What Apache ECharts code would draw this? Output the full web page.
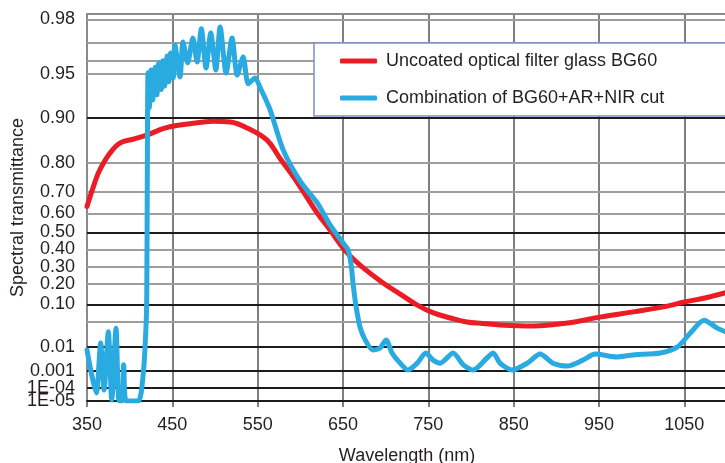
<!DOCTYPE html>
<html>
<head>
<meta charset="utf-8">
<script src="https://cdn.jsdelivr.net/npm/echarts@6/dist/echarts.min.js"></script>
<style>
  html, body { margin: 0; padding: 0; background: #fff; }
  #chart { width: 725px; height: 463px; }
</style>
</head>
<body>
<div id="chart"></div>
<script>
// Uncoated BG60 glass
const redWavelength = [350, 359, 365, 377, 389, 404, 420, 441, 459, 482, 498, 518, 538, 561, 576, 588, 600, 620, 635, 652, 670, 697, 717, 737, 756, 776, 795, 814, 834, 873, 913, 951, 990, 1030, 1050, 1074, 1100];
const redTransmittance = [0.63, 0.73, 0.775, 0.821, 0.843, 0.851, 0.86, 0.876, 0.883, 0.889, 0.892, 0.89, 0.876, 0.849, 0.81, 0.767, 0.716, 0.60, 0.51, 0.395, 0.308, 0.205, 0.142, 0.097, 0.071, 0.058, 0.049, 0.0446, 0.0405, 0.038, 0.046, 0.060, 0.074, 0.093, 0.108, 0.124, 0.15];

// BG60 with AR coating and NIR-cut filter
const blueWavelength = [350, 356, 361, 366, 370, 375, 379, 384, 387.5, 391, 393, 396, 410, 416, 419, 420, 421.5, 423, 425, 427, 430, 432, 434, 437, 439, 441, 444, 446, 448, 451, 453, 459, 462.5, 468, 474, 479, 484, 489.5, 495, 501, 506, 513, 520, 526, 533, 539, 547, 553, 564.5, 580, 600, 620, 635, 652, 656, 659.5, 662, 665, 670, 676, 685, 693.5, 700.5, 707.5, 717, 726, 737, 747, 755.6, 764, 779, 791, 802.5, 819, 826, 834, 848, 866, 881, 896, 913, 931, 945.5, 971, 990, 1022, 1042, 1057, 1073, 1088.6, 1100];
const blueTransmittance = [0.0073, 4.5e-4, 4.2e-5, 0.0127, 7e-5, 0.026, 1.2e-5, 0.033, 1e-5, 1e-5, 0.0018, 1e-5, 1e-5, 7.6e-4, 0.03, 0.116, 0.951, 0.911, 0.953, 0.920, 0.955, 0.926, 0.958, 0.932, 0.960, 0.936, 0.9626, 0.941, 0.9643, 0.9454, 0.9687, 0.9466, 0.9703, 0.9583, 0.972, 0.959, 0.9759, 0.9545, 0.9741, 0.953, 0.9767, 0.9508, 0.972, 0.9489, 0.962, 0.9386, 0.9454, 0.934, 0.909, 0.827, 0.735, 0.646, 0.536, 0.423, 0.396, 0.31, 0.193, 0.098, 0.035, 0.0155, 0.0073, 0.0089, 0.0155, 0.0055, 0.0021, 0.0011, 0.0021, 0.0055, 0.0028, 0.0021, 0.0055, 0.0018, 0.0011, 0.0035, 0.0055, 0.0021, 0.0011, 0.0021, 0.005, 0.0021, 0.0016, 0.0028, 0.005, 0.0038, 0.0046, 0.0055, 0.0098, 0.024, 0.053, 0.033, 0.025];

// Transmittance scale: tick values, their labels, and the scale level of each tick
const yTickValues = [1e-5, 1e-4, 1e-3, 0.01, 0.05, 0.10, 0.20, 0.30, 0.40, 0.50, 0.60, 0.70, 0.80, 0.90, 0.95, 0.96, 0.97, 0.98];
const yTickLabels = ['1E-05', '1E-04', '0.001', '0.01', '', '0.10', '0.20', '0.30', '0.40', '0.50', '0.60', '0.70', '0.80', '0.90', '0.95', '', '', '0.98'];
const yTickLevels = [0, 13, 30, 54.3, 79.3, 96.7, 117, 134.3, 151.7, 168.7, 187.7, 209, 238, 283.3, 327, 340.3, 358.3, 381.7];
const yLevelTop = 387;

const seriesNames = ['Uncoated optical filter glass BG60', 'Combination of BG60+AR+NIR cut'];

// piecewise log interpolation from transmittance to scale level
function toLevel(t) {
  const n = yTickValues.length;
  if (t <= yTickValues[0]) return yTickLevels[0];
  if (t >= yTickValues[n - 1]) {
    const lt = Math.log10(t), a = Math.log10(yTickValues[n - 2]), b = Math.log10(yTickValues[n - 1]);
    return yTickLevels[n - 1] + (lt - b) / (b - a) * (yTickLevels[n - 1] - yTickLevels[n - 2]);
  }
  for (let i = 0; i < n - 1; i++) {
    if (t <= yTickValues[i + 1]) {
      const a = Math.log10(yTickValues[i]), b = Math.log10(yTickValues[i + 1]);
      const f = (Math.log10(t) - a) / (b - a);
      return yTickLevels[i] + f * (yTickLevels[i + 1] - yTickLevels[i]);
    }
  }
  return yTickLevels[n - 1];
}

const MAJOR = new Set(['1E-05', '1E-04', '0.001', '0.01', '0.10', '0.50', '0.90']);
const FONT = '"Liberation Sans", Arial, sans-serif';
const TEXT = '#231f20';

const redData = redWavelength.map((w, i) => [w, toLevel(redTransmittance[i])]);
const blueData = blueWavelength.map((w, i) => [w, toLevel(blueTransmittance[i])]);

// the labelled ticks sit close together near the bottom, so they are split
// across two overlaid label axes (alternating) to keep every label visible
const labeledLevels = yTickLevels.filter((_, i) => yTickLabels[i] !== '');
const levelsA = labeledLevels.filter((_, i) => i % 2 === 0);
const levelsB = labeledLevels.filter((_, i) => i % 2 === 1);
function labelFor(v) {
  let best = 0, d = Infinity;
  yTickLevels.forEach((lv, i) => { if (Math.abs(lv - v) < d) { d = Math.abs(lv - v); best = i; } });
  return yTickLabels[best];
}

const gridLines = yTickLevels.map((lv, i) => ({
  yAxis: lv,
  lineStyle: { color: MAJOR.has(yTickLabels[i]) ? '#1c1c1c' : '#9d9d9d', width: 2, type: 'solid' }
}));
gridLines.push({ yAxis: yLevelTop, lineStyle: { color: '#8a8a8a', width: 2, type: 'solid' } });

const yLabelStyle = (levels) => ({
  customValues: levels,
  formatter: labelFor,
  fontSize: 18,
  color: TEXT,
  fontFamily: FONT,
  margin: 12,
  showMinLabel: true,
  showMaxLabel: true,
  hideOverlap: false
});

const chart = echarts.init(document.getElementById('chart'), null, { renderer: 'canvas' });
chart.setOption({
  animation: false,
  backgroundColor: '#fff',
  grid: { left: 87, right: -2, top: 14, bottom: 62, containLabel: false, outerBoundsMode: 'none' },
  legend: {
    data: seriesNames,
    orient: 'vertical',
    left: 314,
    top: 43,
    z: 20,
    itemWidth: 37,
    itemHeight: 5,
    itemGap: 17,
    icon: 'roundRect',
    padding: [8, 70, 8, 26],
    backgroundColor: '#fff',
    borderColor: '#7f8fcc',
    borderWidth: 1.5,
    textStyle: { fontSize: 18, color: TEXT, fontFamily: FONT, lineHeight: 20, padding: [0, 0, 0, 4] }
  },
  xAxis: {
    type: 'value',
    min: 350,
    max: 1100,
    interval: 100,
    name: 'Wavelength (nm)',
    nameLocation: 'middle',
    nameGap: 46,
    nameMoveOverlap: false,
    nameTextStyle: { fontSize: 18, color: TEXT, fontFamily: FONT },
    axisLine: { show: true, lineStyle: { color: '#1c1c1c', width: 2 } },
    axisTick: { show: true, length: 6, inside: false, lineStyle: { color: '#555', width: 1.5 } },
    axisLabel: { fontSize: 18, color: TEXT, fontFamily: FONT, margin: 15, showMaxLabel: false, formatter: v => String(v) },
    splitLine: { show: true, lineStyle: { color: '#555', width: 1.5 } }
  },
  yAxis: [
    {
      type: 'value',
      position: 'left',
      min: 0,
      max: yLevelTop,
      name: 'Spectral transmittance',
      nameLocation: 'middle',
      nameGap: 60,
      nameMoveOverlap: false,
      nameTextStyle: { fontSize: 18, color: TEXT, fontFamily: FONT },
      axisLine: { show: true, lineStyle: { color: '#8a8a8a', width: 2 } },
      axisTick: { show: false },
      splitLine: { show: false },
      axisLabel: yLabelStyle(levelsA)
    },
    {
      type: 'value',
      position: 'left',
      offset: 0,
      min: 0,
      max: yLevelTop,
      axisLine: { show: false },
      axisTick: { show: false },
      splitLine: { show: false },
      axisLabel: yLabelStyle(levelsB)
    }
  ],
  series: [
    {
      name: 'grid',
      type: 'line',
      data: [],
      z: 1,
      silent: true,
      markLine: {
        z: 1,
        silent: true,
        symbol: ['none', 'none'],
        label: { show: false },
        animation: false,
        data: gridLines
      }
    },
    {
      name: seriesNames[0],
      type: 'line',
      data: redData,
      showSymbol: false,
      smooth: 0.4,
      z: 3,
      color: '#ec1c24',
      lineStyle: { color: '#ec1c24', width: 5, cap: 'round', join: 'round' }
    },
    {
      name: seriesNames[1],
      type: 'line',
      data: blueData,
      showSymbol: false,
      smooth: 0.25,
      z: 4,
      color: '#29abe2',
      lineStyle: { color: '#29abe2', width: 5, cap: 'round', join: 'round' }
    }
  ]
});
</script>
</body>
</html>
